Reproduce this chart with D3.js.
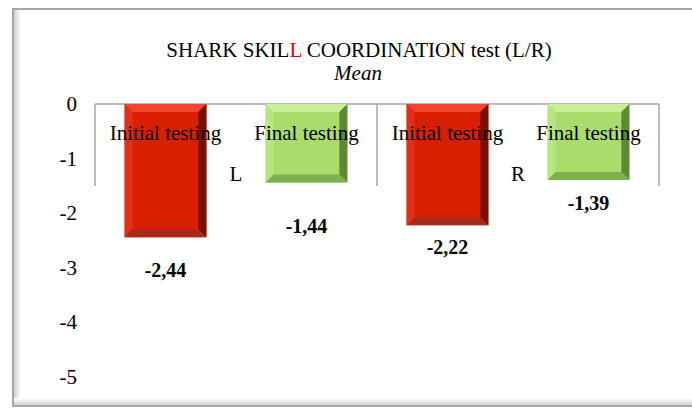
<!DOCTYPE html>
<html lang="en">
<head>
<meta charset="UTF-8">
<title>Shark skill coordination test</title>
<script src="https://d3js.org/d3.v7.min.js"></script>
<style>
    body { margin: 0; padding: 0; background: #fff; }
    svg { display: block; font-family: 'Liberation Serif', 'Times New Roman', serif; }
    .tick-label { font-size: 21px; fill: #000; }
    .cat-label { font-size: 21px; fill: #000; }
    .value-label { font-size: 20px; font-weight: bold; fill: #000; }
</style>
</head>
<body>
<svg width="692" height="409"></svg>
<script>
// data
var groups = ["L", "R"];
var tests = ["Initial testing", "Final testing"];
var values = [-2.44, -1.44, -2.22, -1.39];   // L initial, L final, R initial, R final
var valueLabels = ["-2,44", "-1,44", "-2,22", "-1,39"];
var yTicks = [0, -1, -2, -3, -4, -5];

var svg = d3.select("svg");

// frame with soft shadow
var defs = svg.append("defs");
var gl = defs.append("linearGradient").attr("id", "shL").attr("x1", 0).attr("x2", 1).attr("y1", 0).attr("y2", 0);
gl.append("stop").attr("offset", 0).attr("stop-color", "#d0d0d0");
gl.append("stop").attr("offset", 1).attr("stop-color", "#fff");
var gb = defs.append("linearGradient").attr("id", "shB").attr("x1", 0).attr("x2", 0).attr("y1", 0).attr("y2", 1);
gb.append("stop").attr("offset", 0).attr("stop-color", "#fff");
gb.append("stop").attr("offset", 1).attr("stop-color", "#cfcfcf");

svg.append("rect").attr("x", 14).attr("y", 10).attr("width", 7).attr("height", 396).attr("fill", "url(#shL)");
svg.append("rect").attr("x", 14).attr("y", 398).attr("width", 690).attr("height", 8).attr("fill", "url(#shB)");
svg.append("rect").attr("x", 13).attr("y", 9).attr("width", 700).attr("height", 397)
    .attr("fill", "none").attr("stroke", "#a6a6a6").attr("stroke-width", 2);

// title
var title = svg.append("text").attr("x", 359).attr("y", 57).attr("text-anchor", "middle")
    .style("font-size", "21px");
title.append("tspan").text("SHARK SKIL");
title.append("tspan").attr("fill", "#e00000").text("L");
title.append("tspan").text(" COORDINATION test (L/R)");
svg.append("text").attr("x", 358).attr("y", 80).attr("text-anchor", "middle")
    .style("font-size", "21px").style("font-style", "italic").text("Mean");

// scales
var plotLeft = 95, plotRight = 659;
var y = d3.scaleLinear().domain([-5, 0]).range([377, 104]);

var cats = [];
groups.forEach(function(g) { tests.forEach(function(t) { cats.push(g + "|" + t); }); });

var x = d3.scaleBand().domain(cats).range([plotLeft, plotRight])
    .paddingInner(0.42).paddingOuter(0.21);
var xg = d3.scaleBand().domain(groups).range([plotLeft, plotRight]);

// y tick labels
svg.selectAll(".tick-label").data(yTicks).enter().append("text")
    .attr("class", "tick-label")
    .attr("x", 77)
    .attr("y", function(d) { return y(d) + 7; })
    .attr("text-anchor", "end")
    .text(function(d) { return d; });

// category axis line + group dividers
var axisColor = "#a6a6a6";
svg.append("line").attr("x1", plotLeft).attr("x2", plotRight)
    .attr("y1", y(0)).attr("y2", y(0)).attr("stroke", axisColor).attr("stroke-width", 1.5);
var dividers = [xg.range()[0]].concat(groups.map(function(g) { return xg(g) + xg.bandwidth(); }));
svg.selectAll(".divider").data(dividers).enter().append("line")
    .attr("class", "divider")
    .attr("x1", function(d) { return d; }).attr("x2", function(d) { return d; })
    .attr("y1", y(0)).attr("y2", 186)
    .attr("stroke", axisColor).attr("stroke-width", 1.5);

// bevelled bars
var palettes = {
    "Initial testing": { face: "#d82000", top: "#f2442f", left: "#e0301a", right: "#7c1000", bottom: "#a8281a" },
    "Final testing":   { face: "#a8dd6b", top: "#c8f195", left: "#b6e67e", right: "#5a8a33", bottom: "#7faf50" }
};
var bev = 8;

var barData = cats.map(function(c, i) {
    return { key: c, test: c.split("|")[1], value: values[i], label: valueLabels[i] };
});

var bars = svg.selectAll(".bar").data(barData).enter().append("g").attr("class", "bar");
bars.each(function(d) {
    var g = d3.select(this), p = palettes[d.test];
    var x0 = x(d.key), x1 = x0 + x.bandwidth(), y0 = y(0), y1 = y(d.value);
    g.append("rect").attr("x", x0).attr("y", y0).attr("width", x1 - x0).attr("height", y1 - y0).attr("fill", p.face);
    var pts = function(a) { return a.map(function(q) { return q.join(","); }).join(" "); };
    g.append("polygon").attr("fill", p.top)
        .attr("points", pts([[x0, y0], [x1, y0], [x1 - bev, y0 + bev], [x0 + bev, y0 + bev]]));
    g.append("polygon").attr("fill", p.left)
        .attr("points", pts([[x0, y0], [x0 + bev, y0 + bev], [x0 + bev, y1 - bev], [x0, y1]]));
    g.append("polygon").attr("fill", p.right)
        .attr("points", pts([[x1, y0], [x1, y1], [x1 - bev, y1 - bev], [x1 - bev, y0 + bev]]));
    g.append("polygon").attr("fill", p.bottom)
        .attr("points", pts([[x0, y1], [x0 + bev, y1 - bev], [x1 - bev, y1 - bev], [x1, y1]]));
});

// value labels (manually nudged below bars as in the original)
var labelDy = [40, 50, 29, 30];
svg.selectAll(".value-label").data(barData).enter().append("text")
    .attr("class", "value-label")
    .attr("x", function(d) { return x(d.key) + x.bandwidth() / 2; })
    .attr("y", function(d, i) { return y(d.value) + labelDy[i]; })
    .attr("text-anchor", "middle")
    .text(function(d) { return d.label; });

// category labels
svg.selectAll(".cat-label").data(barData).enter().append("text")
    .attr("class", "cat-label")
    .attr("x", function(d) { return x(d.key) + x.bandwidth() / 2; })
    .attr("y", 140)
    .attr("text-anchor", "middle")
    .text(function(d) { return d.test; });

svg.selectAll(".group-label").data(groups).enter().append("text")
    .attr("class", "cat-label")
    .attr("x", function(d) { return xg(d) + xg.bandwidth() / 2; })
    .attr("y", 181)
    .attr("text-anchor", "middle")
    .text(function(d) { return d; });
</script>
</body>
</html>
